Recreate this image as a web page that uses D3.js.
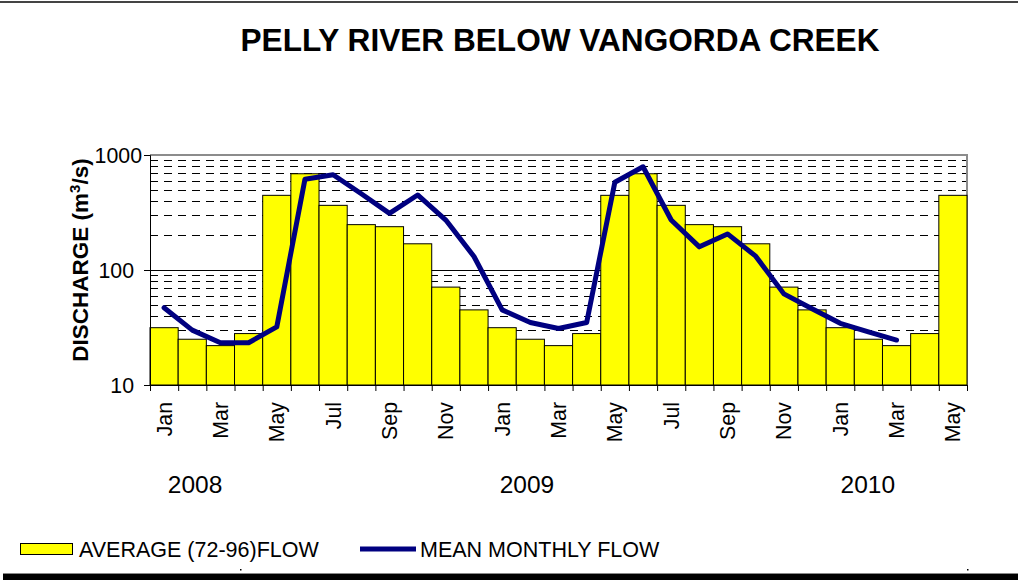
<!DOCTYPE html>
<html>
<head>
<meta charset="utf-8">
<script src="https://cdn.jsdelivr.net/npm/d3@7"></script>
<style>
  html, body { margin: 0; padding: 0; background: #fff; }
  svg { display: block; font-family: "Liberation Sans", Arial, sans-serif; }
</style>
</head>
<body>
<svg id="chart" width="1018" height="580"></svg>
<script>
// ---- data ----
const months = ["Jan","Feb","Mar","Apr","May","Jun","Jul","Aug","Sep","Oct","Nov","Dec",
                "Jan","Feb","Mar","Apr","May","Jun","Jul","Aug","Sep","Oct","Nov","Dec",
                "Jan","Feb","Mar","Apr","May"];
const avgFlow = [31.5, 25, 22, 28, 446, 687, 365, 248, 238, 169, 71, 45,
                 31.5, 25, 22, 28, 446, 687, 365, 248, 238, 169, 71, 45,
                 31.5, 25, 22, 28, 446];
const meanFlow = [47, 30, 23.3, 23.3, 32, 615, 674, 460, 311, 449, 272, 131,
                  45, 35, 31, 35, 579, 790, 272, 159, 206, 132, 62, 46,
                  34.4, 29, 24.6];
const yTicks = [10, 100, 1000];
const gridMinor = [20,30,40,50,60,70,80,90,200,300,400,500,600,700,800,900];
const years = ["2008", "2009", "2010"];
const yearPos = [1.6, 13.38, 25.48];   // in month units from the left edge
const titleText = "PELLY RIVER BELOW VANGORDA CREEK";
const legendLabels = ["AVERAGE (72-96)FLOW", "MEAN MONTHLY FLOW"];

// ---- layout ----
const svg = d3.select("#chart");
const L = 150, R = 967, T = 155, B = 385;
const idx = d3.range(months.length);
const x = d3.scaleBand().domain(idx).range([L, R]).padding(0);
const y = d3.scaleLog().domain([10, 1000]).range([B, T]);
const xm = d3.scaleLinear().domain([0, months.length]).range([L, R]);

// frame lines
svg.append("line").attr("x1", 0).attr("x2", 1018).attr("y1", 2).attr("y2", 2)
  .attr("stroke", "#444").attr("stroke-width", 2);
svg.append("rect").attr("x", 3).attr("y", 574).attr("width", 1015).attr("height", 6).attr("fill", "#000");
svg.append("line").attr("x1", 3).attr("x2", 1018).attr("y1", 573.5).attr("y2", 573.5)
  .attr("stroke", "#888").attr("stroke-width", 1);
[240, 967].forEach(px => svg.append("rect").attr("x", px).attr("y", 569).attr("width", 1.5).attr("height", 1.5).attr("fill", "#000"));

// title
svg.append("text").attr("x", 560).attr("y", 51).attr("text-anchor", "middle")
  .attr("font-size", 31.6).attr("font-weight", "bold").attr("fill", "#000").text(titleText);

// gridlines
const g = svg.append("g");
g.selectAll(".minor").data(gridMinor).join("line")
  .attr("x1", L).attr("x2", R).attr("y1", d => Math.round(y(d)) + 0.5).attr("y2", d => Math.round(y(d)) + 0.5)
  .attr("stroke", "#000").attr("stroke-width", 1).attr("stroke-dasharray", "8,6");
g.append("line").attr("x1", L).attr("x2", R).attr("y1", Math.round(y(100)) + 0.5).attr("y2", Math.round(y(100)) + 0.5)
  .attr("stroke", "#000").attr("stroke-width", 1);

// plot border top/right (gray)
g.append("path").attr("d", `M${L},${T}H${R}V${B}`).attr("fill", "none").attr("stroke", "#8c8c8c").attr("stroke-width", 2);

// bars
svg.append("g").selectAll("rect").data(avgFlow).join("rect")
  .attr("x", (d, i) => x(i)).attr("width", x.bandwidth())
  .attr("y", d => y(d)).attr("height", d => B - y(d))
  .attr("fill", "#ffff00").attr("stroke", "#000").attr("stroke-width", 1);

// axes
const xAxis = d3.axisBottom(xm).tickValues(d3.range(months.length + 1)).tickSize(6).tickFormat("");
const xa = svg.append("g").attr("transform", `translate(0,${B})`).call(xAxis);
xa.select(".domain").attr("stroke", "#000");
xa.selectAll(".tick line").attr("stroke", "#000");

const yAxis = d3.axisLeft(y).tickValues(yTicks).tickSize(6).tickFormat("");
const ya = svg.append("g").attr("transform", `translate(${L},0)`).call(yAxis);
ya.select(".domain").attr("stroke", "#000");
ya.selectAll(".tick line").attr("stroke", "#000");

// y tick labels
svg.append("g").selectAll("text").data(yTicks).join("text")
  .attr("x", d => d >= 1000 ? 142 : 134).attr("y", d => y(d)).attr("dy", "0.36em")
  .attr("text-anchor", "end").attr("font-size", 21.3).attr("fill", "#000")
  .text(d => d3.format("d")(d));

// month labels (every other month)
svg.append("g").selectAll("text").data(idx.filter(i => i % 2 === 0)).join("text")
  .attr("transform", i => `translate(${x(i) + x.bandwidth() / 2},402) rotate(-90)`)
  .attr("text-anchor", "end").attr("dy", "0.35em")
  .attr("font-size", 21.3).attr("fill", "#000")
  .text(i => months[i]);

// year labels
svg.append("g").selectAll("text").data(years).join("text")
  .attr("x", (d, i) => xm(yearPos[i])).attr("y", 493)
  .attr("text-anchor", "middle").attr("font-size", 24.5).attr("fill", "#000")
  .text(d => d);

// y axis title
const yt = svg.append("text").attr("transform", "translate(80,260) rotate(-90)")
  .attr("text-anchor", "middle").attr("dy", "0.35em").attr("font-size", 22.5).attr("font-weight", "bold").attr("fill", "#000");
yt.append("tspan").text("DISCHARGE (m");
yt.append("tspan").attr("font-size", 15).attr("dy", -8).text("3");
yt.append("tspan").attr("dy", 8).text("/s)");

// mean line
const line = d3.line().x((d, i) => x(i) + x.bandwidth() / 2).y(d => y(d));
svg.append("path").datum(meanFlow).attr("d", line)
  .attr("fill", "none").attr("stroke", "#000080").attr("stroke-width", 5)
  .attr("stroke-linejoin", "round").attr("stroke-linecap", "round");

// legend
const lg = svg.append("g");
lg.append("rect").attr("x", 20.5).attr("y", 543.5).attr("width", 52).attr("height", 11)
  .attr("fill", "#ffff00").attr("stroke", "#000").attr("stroke-width", 1);
lg.append("text").attr("x", 79).attr("y", 557).attr("font-size", 21.5).attr("fill", "#000").text(legendLabels[0]);
lg.append("line").attr("x1", 360).attr("x2", 416).attr("y1", 549).attr("y2", 549)
  .attr("stroke", "#000080").attr("stroke-width", 5);
lg.append("text").attr("x", 420).attr("y", 557).attr("font-size", 21.5).attr("fill", "#000").text(legendLabels[1]);
</script>
</body>
</html>
